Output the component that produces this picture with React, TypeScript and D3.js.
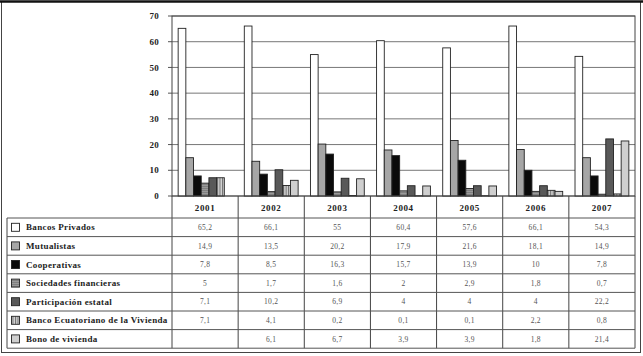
import React from 'react';
import * as d3 from 'd3';

const years = ['2001', '2002', '2003', '2004', '2005', '2006', '2007'];
const seriesNames = [
  'Bancos Privados',
  'Mutualistas',
  'Cooperativas',
  'Sociedades financieras',
  'Participación estatal',
  'Banco Ecuatoriano de la Vivienda',
  'Bono de vivienda',
];
const bancos = [65.2, 66.1, 55, 60.4, 57.6, 66.1, 54.3];
const mutualistas = [14.9, 13.5, 20.2, 17.9, 21.6, 18.1, 14.9];
const cooperativas = [7.8, 8.5, 16.3, 15.7, 13.9, 10, 7.8];
const sociedades = [5, 1.7, 1.6, 2, 2.9, 1.8, 0.7];
const participacion = [7.1, 10.2, 6.9, 4, 4, 4, 22.2];
const bev = [7.1, 4.1, 0.2, 0.1, 0.1, 2.2, 0.8];
const bono: (number | null)[] = [null, 6.1, 6.7, 3.9, 3.9, 1.8, 21.4];
const yTicks = [0, 10, 20, 30, 40, 50, 60, 70];

const seriesValues = [bancos, mutualistas, cooperativas, sociedades, participacion, bev, bono];
const fills = ['#ffffff', '#a6a6a6', '#0a0a0a', 'url(#socPat)', '#595959', 'url(#bevPat)', '#cfcfcf'];

const fmt = (v: number | null) => (v == null ? '' : String(v).replace('.', ','));

export default function App() {
  const W = 643, H = 356;
  const left = 172, right = 635, top = 16, bottom = 196;
  const tableTop = 218, rowH = 18.6;
  const x = d3.scaleBand<string>().domain(years).range([left, right]).padding(0);
  const inner = d3
    .scaleBand<number>()
    .domain(d3.range(seriesNames.length))
    .range([0, x.bandwidth()])
    .paddingInner(0)
    .paddingOuter(0.8);
  const y = d3.scaleLinear().domain([0, 70]).range([bottom, top]);
  const tableBottom = tableTop + rowH * seriesNames.length;
  const serif = '"Liberation Serif", "Times New Roman", serif';

  return (
    <svg
      width={W}
      height={H}
      style={{ position: 'absolute', left: 0, top: 0, background: '#fff' }}
      fontFamily={serif}
    >
      <defs>
        <pattern id="bevPat" width="2.5" height="4" patternUnits="userSpaceOnUse">
          <rect width="2.5" height="4" fill="#d4d4d4" />
          <rect width="1" height="4" fill="#6e6e6e" />
        </pattern>
        <pattern id="socPat" width="4" height="2" patternUnits="userSpaceOnUse">
          <rect width="4" height="2" fill="#9a9a9a" />
          <rect width="4" height="0.8" fill="#7a7a7a" />
        </pattern>
      </defs>
      <rect width={W} height={H} fill="#fff" />
      {/* outer frame */}
      <rect x={1.5} y={1.5} width={W - 4} height={H - 5} fill="none" stroke="#444" strokeWidth={1} />
      <line x1={0} x2={W} y1={1.5} y2={1.5} stroke="#111" strokeWidth={2.5} />

      {/* gridlines */}
      {yTicks.map((t) => (
        <line key={t} x1={left} x2={right} y1={y(t)} y2={y(t)} stroke="#777" strokeWidth={1} />
      ))}
      {/* y tick marks and labels */}
      {yTicks.map((t) => (
        <g key={'yt' + t}>
          <line x1={left - 4} x2={left} y1={y(t)} y2={y(t)} stroke="#555" />
          <text
            x={left - 13}
            y={y(t)}
            dy="0.35em"
            textAnchor="end"
            fontSize={9}
            fontWeight="bold"
            letterSpacing={0.3}
            fill="#222"
          >
            {t}
          </text>
        </g>
      ))}

      {/* bars */}
      {years.map((yr, i) => (
        <g key={yr} transform={`translate(${x(yr)},0)`}>
          {seriesValues.map((vals, s) => {
            const v = vals[i];
            if (v == null) return null;
            return (
              <rect
                key={s}
                x={inner(s)!}
                y={y(v)}
                width={inner.bandwidth()}
                height={y(0) - y(v)}
                fill={fills[s]}
                stroke="#222"
                strokeWidth={0.9}
              />
            );
          })}
        </g>
      ))}

      {/* plot area border */}
      <rect x={left} y={top} width={right - left} height={bottom - top} fill="none" stroke="#444" strokeWidth={1} />

      {/* table: vertical lines */}
      {years.map((yr) => (
        <line key={'v' + yr} x1={x(yr)!} x2={x(yr)!} y1={bottom} y2={tableBottom} stroke="#444" strokeWidth={1} />
      ))}
      <line x1={right} x2={right} y1={bottom} y2={tableBottom} stroke="#444" strokeWidth={1} />
      <line x1={7} x2={7} y1={tableTop} y2={tableBottom} stroke="#444" strokeWidth={1} />
      {/* horizontal lines */}
      {d3.range(seriesNames.length + 1).map((r) => (
        <line
          key={'h' + r}
          x1={7}
          x2={right}
          y1={tableTop + r * rowH}
          y2={tableTop + r * rowH}
          stroke="#555"
          strokeWidth={1}
        />
      ))}
      {/* year labels */}
      {years.map((yr) => (
        <text
          key={'yl' + yr}
          x={x(yr)! + x.bandwidth() / 2}
          y={(bottom + tableTop) / 2 + 1}
          dy="0.35em"
          textAnchor="middle"
          fontSize={9}
          fontWeight="bold"
          letterSpacing={0.6}
          fill="#222"
        >
          {yr}
        </text>
      ))}
      {/* rows */}
      {seriesNames.map((name, s) => {
        const cy = tableTop + s * rowH + rowH / 2;
        return (
          <g key={name}>
            <rect x={11.5} y={cy - 4} width={8} height={8} fill={fills[s]} stroke="#222" strokeWidth={0.9} />
            <text x={26} y={cy} dy="0.35em" fontSize={9} fontWeight="bold" letterSpacing={0.35} fill="#222">
              {name}
            </text>
            {years.map((yr, i) => (
              <text
                key={yr}
                x={x(yr)! + x.bandwidth() / 2}
                y={cy}
                dy="0.35em"
                textAnchor="middle"
                fontSize={7.5}
                letterSpacing={0.3}
                fill="#555"
              >
                {fmt(seriesValues[s][i])}
              </text>
            ))}
          </g>
        );
      })}
    </svg>
  );
}
